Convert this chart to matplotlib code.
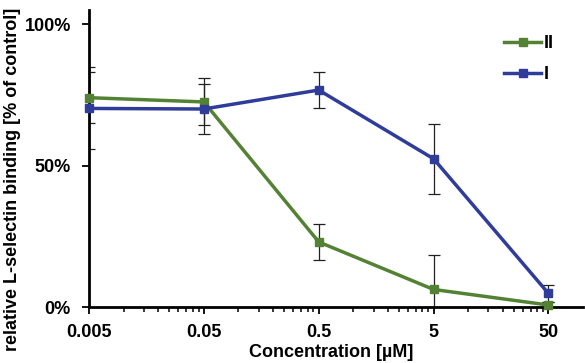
import numpy as np
import matplotlib
matplotlib.use("Agg")
import matplotlib.pyplot as plt
from matplotlib.ticker import FixedLocator, NullFormatter

conc = [0.005, 0.05, 0.5, 5, 50]
tick_labels = ["0.005", "0.05", "0.5", "5", "50"]

II_vals = [74.0, 72.5, 23.0, 6.2, 0.7]
II_err = [9.0, 8.3, 6.3, 12.2, 1.0]
I_vals = [70.2, 70.0, 76.7, 52.4, 4.8]
I_err = [14.5, 9.0, 6.3, 12.3, 3.0]

y_ticks = [0, 50, 100]
y_labels = ["0%", "50%", "100%"]

green = "#548235"
blue = "#2F3C9A"

plt.rcParams['font.family'] = ['Liberation Sans', 'DejaVu Sans']
plt.rcParams['font.weight'] = 'bold'
FS = 13

fig = plt.figure(figsize=(5.85, 3.63), dpi=100)
ax = fig.add_axes([89/585, 56/363, (583-89)/585, (307-10)/363])

for vals, err, col in [(II_vals, II_err, green), (I_vals, I_err, blue)]:
    ax.errorbar(conc, vals, yerr=err, fmt='none', ecolor='#222222',
                elinewidth=0.9, capsize=4, capthick=0.9, zorder=2)

ax.plot(conc, II_vals, color=green, lw=2.5, marker='s', ms=6, label='II',
        zorder=3, clip_on=False)
ax.plot(conc, I_vals, color=blue, lw=2.5, marker='s', ms=6, label='I',
        zorder=3, clip_on=False)

ax.set_xscale('log')
ax.set_xlim(0.005, 100)
ax.set_ylim(0, 105)

ax.xaxis.set_major_locator(FixedLocator(conc))
ax.set_xticklabels(tick_labels)
minor = [c * n for c in conc for n in range(2, 10) if c * n < 100]
ax.xaxis.set_minor_locator(FixedLocator(minor))
ax.xaxis.set_minor_formatter(NullFormatter())
ax.set_yticks(y_ticks)
ax.set_yticklabels(y_labels)

for s in ['top', 'right']:
    ax.spines[s].set_visible(False)
for s in ['left', 'bottom']:
    ax.spines[s].set_linewidth(2)
    ax.spines[s].set_color('black')

ax.tick_params(axis='x', which='major', length=5, width=1.3, pad=7, labelsize=FS)
ax.tick_params(axis='x', which='minor', length=3.5, width=1.1)
ax.tick_params(axis='y', which='major', length=5, width=1.3, pad=8, labelsize=FS)

ax.set_xlabel("Concentration [\u00b5M]", fontsize=FS, fontweight='bold')
ax.set_ylabel("relative L-selectin binding [% of control]", fontsize=FS, fontweight='bold')
ax.yaxis.set_label_coords(-0.138, 0.43)
ax.xaxis.set_label_coords(0.49, -0.123)

leg = ax.legend(loc='upper left', bbox_to_anchor=(504/585, (363-35)/363),
                bbox_transform=fig.transFigure, frameon=False, fontsize=FS,
                handlelength=2.05, handletextpad=0.15, labelspacing=0.8,
                borderpad=0, borderaxespad=0)

fig.savefig("out.png", dpi=100)
